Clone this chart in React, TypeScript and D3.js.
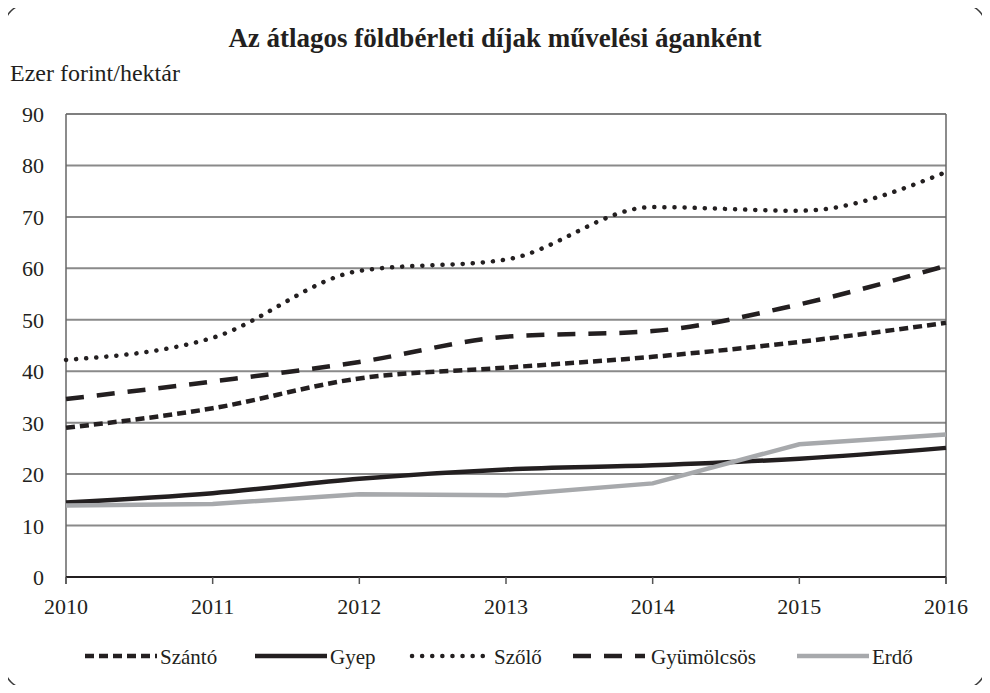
import { useEffect, useRef } from "react";
import * as d3 from "d3";

const years = [2010, 2011, 2012, 2013, 2014, 2015, 2016];
const yTicks = [0, 10, 20, 30, 40, 50, 60, 70, 80, 90];

const szanto = [29.0, 32.8, 38.6, 40.7, 42.8, 45.7, 49.4];
const gyep = [14.5, 16.3, 19.1, 20.9, 21.7, 23.0, 25.1];
const szolo = [42.2, 46.5, 59.5, 61.7, 71.9, 71.2, 78.7];
const gyumolcsos = [34.6, 38.0, 41.8, 46.7, 47.8, 53.0, 60.5];
const erdo = [13.9, 14.2, 16.1, 15.9, 18.2, 25.8, 27.7];

const seriesNames = ["Szántó", "Gyep", "Szőlő", "Gyümölcsös", "Erdő"];
const seriesValues = [szanto, gyep, szolo, gyumolcsos, erdo];

// stroke styles per series
const styles = [
  { color: "#231f20", dash: "9,5", cap: "butt", smooth: true },
  { color: "#231f20", dash: null, cap: "butt", smooth: true },
  { color: "#231f20", dash: "0.1,10", cap: "round", smooth: true },
  { color: "#231f20", dash: "18,13", cap: "butt", smooth: true },
  { color: "#a7a9ac", dash: null, cap: "butt", smooth: false },
];

export default function App() {
  const ref = useRef(null);

  const width = 990;
  const height = 693;
  const marginLeft = 66;
  const marginRight = 44;
  const marginTop = 114;
  const marginBottom = 116;
  const font = "Liberation Serif, Times New Roman, Tinos, DejaVu Serif, serif";

  useEffect(() => {
    const svg = d3.select(ref.current);
    svg.selectAll("*").remove();

    const x = d3.scaleLinear()
      .domain([2010, 2016])
      .range([marginLeft, width - marginRight]);
    const y = d3.scaleLinear()
      .domain([0, 90])
      .range([height - marginBottom, marginTop]);

    // outer frame
    svg.append("rect")
      .attr("x", 4.5).attr("y", 4.5)
      .attr("width", width - 9).attr("height", height - 9)
      .attr("rx", 22)
      .attr("fill", "white")
      .attr("stroke", "#3a3a3a")
      .attr("stroke-width", 1.5);

    svg.append("text")
      .attr("x", 495).attr("y", 47)
      .attr("text-anchor", "middle")
      .style("font-family", font)
      .attr("font-weight", "bold")
      .attr("font-size", 27)
      .attr("fill", "#231f20")
      .text("Az átlagos földbérleti díjak művelési áganként");

    svg.append("text")
      .attr("x", 10).attr("y", 81)
      .style("font-family", font)
      .attr("font-size", 24)
      .attr("fill", "#231f20")
      .text("Ezer forint/hektár");

    // gridlines
    svg.append("g")
      .selectAll("line")
      .data(yTicks.filter(d => d > 0 && d < 90))
      .join("line")
      .attr("x1", marginLeft).attr("x2", width - marginRight)
      .attr("y1", d => y(d)).attr("y2", d => y(d))
      .attr("stroke", "#8a8a8a")
      .attr("stroke-width", 2);

    // plot frame
    svg.append("line")
      .attr("x1", marginLeft).attr("x2", width - marginRight)
      .attr("y1", y(90)).attr("y2", y(90))
      .attr("stroke", "#555").attr("stroke-width", 1.5);
    svg.append("line")
      .attr("x1", width - marginRight).attr("x2", width - marginRight)
      .attr("y1", y(90)).attr("y2", y(0) + 7)
      .attr("stroke", "#666").attr("stroke-width", 1.5);
    svg.append("line")
      .attr("x1", marginLeft).attr("x2", marginLeft)
      .attr("y1", y(90)).attr("y2", y(0) + 7)
      .attr("stroke", "#666").attr("stroke-width", 1.5);

    // y tick labels
    svg.append("g")
      .selectAll("text")
      .data(yTicks)
      .join("text")
      .attr("x", 44)
      .attr("y", d => y(d) + 8)
      .attr("text-anchor", "end")
      .style("font-family", font)
      .attr("font-size", 22)
      .attr("fill", "#231f20")
      .text(d => d);

    // x axis
    const gx = svg.append("g").attr("transform", `translate(0,${y(0)})`);
    gx.append("line")
      .attr("x1", marginLeft).attr("x2", width - marginRight)
      .attr("stroke", "#231f20").attr("stroke-width", 2);
    gx.selectAll("line.tick")
      .data(years)
      .join("line")
      .attr("class", "tick")
      .attr("x1", d => x(d)).attr("x2", d => x(d))
      .attr("y1", 0).attr("y2", 7)
      .attr("stroke", "#555").attr("stroke-width", 1.5);
    gx.selectAll("text")
      .data(years)
      .join("text")
      .attr("x", d => x(d))
      .attr("y", 37)
      .attr("text-anchor", "middle")
      .style("font-family", font)
      .attr("font-size", 22)
      .attr("fill", "#231f20")
      .text(d => d);

    seriesValues.forEach((vals, i) => {
      const s = styles[i];
      const line = d3.line<number>()
        .x((d, j) => x(years[j]))
        .y(d => y(d))
        .curve(s.smooth ? d3.curveMonotoneX : d3.curveLinear);
      svg.append("path")
        .datum(vals)
        .attr("d", line)
        .attr("fill", "none")
        .attr("stroke", s.color)
        .attr("stroke-width", 4.5)
        .attr("stroke-dasharray", s.dash)
        .attr("stroke-linecap", s.cap);
    });

    // legend
    const legendX = [85, 255, 412, 573, 797];
    const textGap = [3, 3, 10, 6, 3];
    const legendLen = 72;
    const legendY = 656;
    const lg = svg.append("g");
    seriesNames.forEach((name, i) => {
      const s = styles[i];
      lg.append("line")
        .attr("x1", legendX[i]).attr("x2", legendX[i] + legendLen)
        .attr("y1", legendY).attr("y2", legendY)
        .attr("stroke", s.color)
        .attr("stroke-width", 4.5)
        .attr("stroke-dasharray", s.dash)
        .attr("stroke-linecap", s.cap);
      lg.append("text")
        .attr("x", legendX[i] + legendLen + textGap[i])
        .attr("y", legendY + 8)
        .style("font-family", font)
        .attr("font-size", 21)
        .attr("fill", "#231f20")
        .text(name);
    });
  }, []);

  return (
    <div style={{ margin: -8 }}>
      <svg ref={ref} width={width} height={height} style={{ display: "block" }} />
    </div>
  );
}
